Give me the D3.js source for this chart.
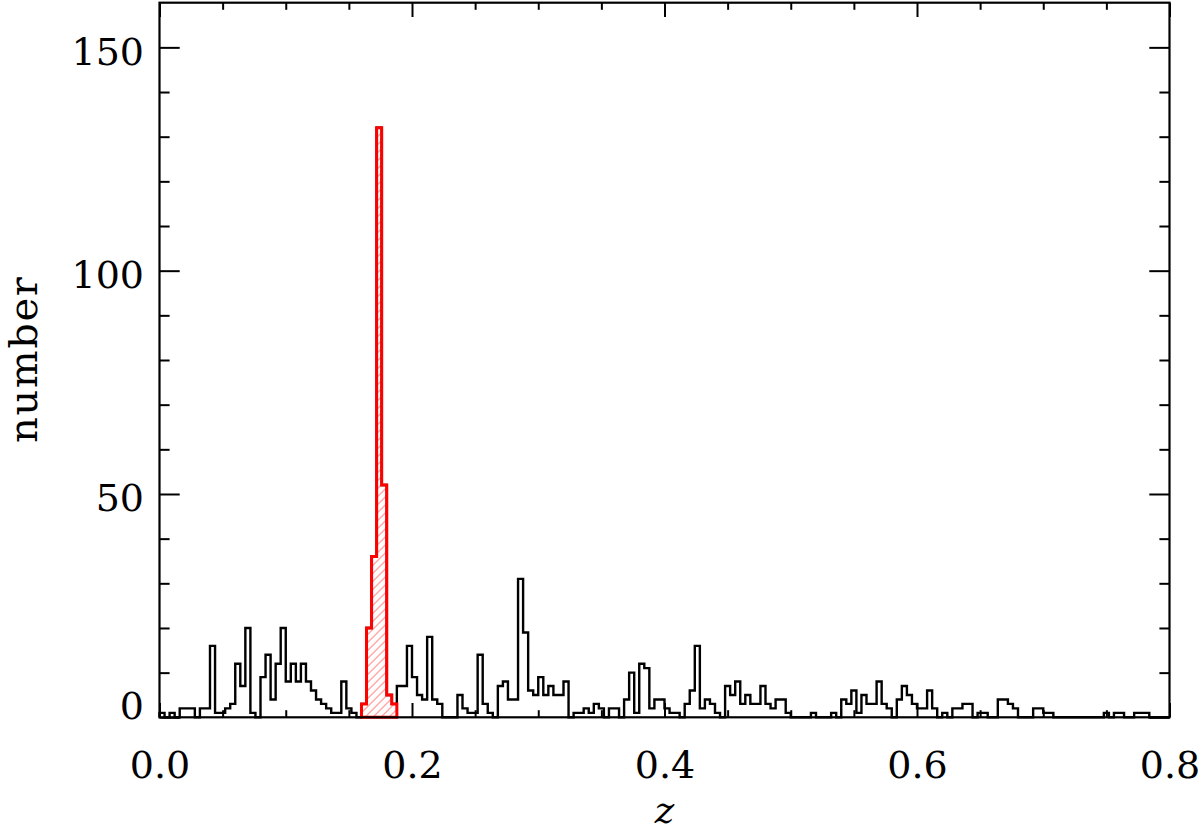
<!DOCTYPE html>
<html>
<head>
<meta charset="utf-8">
<script src="https://cdn.jsdelivr.net/npm/d3@7"></script>
<style>
  body { margin: 0; background: #fff; }
  svg { display: block; }
  .tick text { font-family: "DejaVu Serif", serif; font-size: 38px; fill: #000; }
  .tick line { stroke: #000; stroke-width: 2px; }
</style>
</head>
<body>
<div id="chart"></div>
<script>
// histogram in z, bin width 0.004 from 0 to 0.8
var binWidth = 0.004;
var counts = [
  1,0,1,0,2,2,2,0,2,2,
  16,1,1,2,3,12,7,20,1,0,
  9,14,4,12,20,8,12,8,12,8,
  6,4,3,2,1,1,8,2,1,0,
  3,20,36,132,52,5,3,7,7,16,
  9,5,4,18,4,3,0,0,0,5,
  2,1,1,14,3,1,0,7,8,4,
  4,31,19,6,5,9,5,7,5,5,
  8,0,1,1,2,1,3,2,0,2,
  2,0,4,10,1,12,11,2,4,4,
  2,1,1,0,3,6,16,2,4,3,
  1,0,7,5,8,3,5,3,3,7,
  3,2,4,4,1,0,0,0,0,1,
  0,0,0,1,0,4,3,6,1,5,
  3,3,8,3,2,0,4,7,5,3,
  2,2,6,2,0,1,0,2,2,3,
  3,0,1,1,0,0,4,4,3,2,
  0,0,0,2,2,1,1,0,0,0,
  0,0,0,0,0,0,0,1,0,1,
  1,0,0,1,1,1,0,0,0,0
];
// selected cluster (red, hatched)
var redStart = 0.160;
var redCounts = [3, 20, 36, 132, 52, 5, 3];

var xMajor = [0, 0.2, 0.4, 0.6, 0.8];
var xMinor = [0.05,0.1,0.15,0.25,0.3,0.35,0.45,0.5,0.55,0.65,0.7,0.75];
var yMajor = [0, 50, 100, 150];
var yMinor = [10,20,30,40,60,70,80,90,110,120,130,140];

var W = 1200, H = 834;
var margin = {top: 2.7, right: 30.5, bottom: 116.7, left: 159.5};
var width = W - margin.left - margin.right;
var height = H - margin.top - margin.bottom;

var svg = d3.select("#chart").append("svg")
    .attr("width", W)
    .attr("height", H);

var defs = svg.append("defs");
defs.append("pattern")
    .attr("id", "hatch")
    .attr("patternUnits", "userSpaceOnUse")
    .attr("width", 8)
    .attr("height", 8)
  .append("path")
    .attr("d", "M-2,2 l4,-4 M0,8 l8,-8 M6,10 l4,-4")
    .attr("stroke", "#ff4040")
    .attr("stroke-width", 0.9);

var g = svg.append("g")
    .attr("transform", "translate(" + margin.left + "," + margin.top + ")");

var x = d3.scaleLinear().domain([0, 0.8]).range([0, width]);
var y = d3.scaleLinear().domain([0, 160]).range([height, 0]);

//step outline points
function stepPoints(start, vals) {
    var pts = [[start, 0]];
    vals.forEach(function(c, i) {
        var lo = start + i * binWidth;
        pts.push([lo, c]);
        pts.push([lo + binWidth, c]);
    });
    pts.push([start + vals.length * binWidth, 0]);
    return pts;
}

var line = d3.line()
    .x(function(d) { return x(d[0]); })
    .y(function(d) { return y(d[1]); });

g.append("path")
    .attr("d", line(stepPoints(0, counts)))
    .attr("fill", "none")
    .attr("stroke", "#000")
    .attr("stroke-width", 2.4);

g.append("path")
    .attr("d", line(stepPoints(redStart, redCounts)) + "Z")
    .attr("fill", "url(#hatch)")
    .attr("stroke", "#ff0000")
    .attr("stroke-width", 3)
    .attr("stroke-linejoin", "miter");

// axes: ticks point inward on all four sides
function clean(sel) { sel.select(".domain").remove(); }

g.append("g").attr("transform", "translate(0," + height + ")")
    .call(d3.axisBottom(x).tickValues(xMajor).tickSize(-14.3).tickPadding(34)
        .tickFormat(d3.format(".1f")))
    .call(clean);
g.append("g").attr("transform", "translate(0," + height + ")")
    .call(d3.axisBottom(x).tickValues(xMinor).tickSize(-7.1).tickFormat(""))
    .call(clean);
g.append("g")
    .call(d3.axisTop(x).tickValues(xMajor).tickSize(-14.3).tickFormat(""))
    .call(clean);
g.append("g")
    .call(d3.axisTop(x).tickValues(xMinor).tickSize(-7.1).tickFormat(""))
    .call(clean);

var yAx = g.append("g")
    .call(d3.axisLeft(y).tickValues(yMajor).tickSize(-20.2).tickPadding(15.5))
    .call(clean);
yAx.selectAll("text").attr("dy", function(d) { return d === 0 ? "0.02em" : "0.44em"; });
g.append("g")
    .call(d3.axisLeft(y).tickValues(yMinor).tickSize(-10.1).tickFormat(""))
    .call(clean);
g.append("g").attr("transform", "translate(" + width + ",0)")
    .call(d3.axisRight(y).tickValues(yMajor).tickSize(-20.2).tickFormat(""))
    .call(clean);
g.append("g").attr("transform", "translate(" + width + ",0)")
    .call(d3.axisRight(y).tickValues(yMinor).tickSize(-10.1).tickFormat(""))
    .call(clean);

// frame
g.append("rect")
    .attr("width", width)
    .attr("height", height)
    .attr("fill", "none")
    .attr("stroke", "#000")
    .attr("stroke-width", 2.2);

// axis titles
svg.append("text")
    .attr("transform", "translate(37," + (margin.top + height / 2) + ") rotate(-90)")
    .attr("text-anchor", "middle")
    .style("font-family", "'DejaVu Serif', serif")
    .style("font-size", "40px")
    .attr("textLength", 166)
    .text("number");

svg.append("text")
    .attr("x", margin.left + width / 2)
    .attr("y", 823)
    .attr("text-anchor", "middle")
    .style("font-family", "'DejaVu Serif', serif")
    .style("font-style", "italic")
    .style("font-size", "37px")
    .text("z");
</script>
</body>
</html>
